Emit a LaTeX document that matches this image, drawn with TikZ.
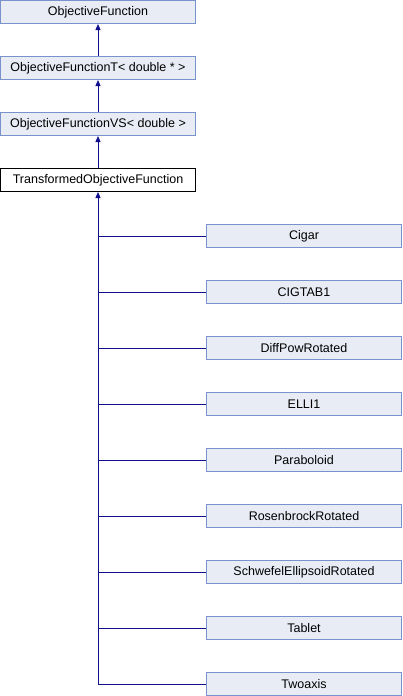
\documentclass[tikz,border=0pt]{standalone}
\usepackage{fontspec}
\setmainfont{Liberation Sans}
\usetikzlibrary{arrows.meta}
\definecolor{boxfill}{RGB}{232,236,245}
\definecolor{boxline}{RGB}{122,146,204}
\definecolor{edge}{RGB}{16,16,140}
\begin{document}
\begin{tikzpicture}[x=1pt, y=-1pt,
  cls/.style={draw=boxline, fill=boxfill, line width=1pt, minimum width=195pt,
    minimum height=23pt, inner sep=0pt, font=\fontsize{12.5}{14}\selectfont},
  cur/.style={cls, draw=black, fill=white},
  inh/.style={draw=edge, line width=1pt, -{Triangle[length=6pt,width=5pt]}},
  link/.style={draw=edge, line width=1pt}]
\useasboundingbox (0,0) rectangle (402,696);
% Base classes
\node[cls] (of)  at (98,12)  {ObjectiveFunction};
\node[cls] (oft) at (98,68)  {ObjectiveFunctionT< double * >};
\node[cls] (ofv) at (98,124) {ObjectiveFunctionVS< double >};
\node[cur] (tof) at (98,180) {TransformedObjectiveFunction};
% Arrows up the chain
\draw[inh] (oft) -- (of);
\draw[inh] (ofv) -- (oft);
\draw[inh] (tof) -- (ofv);
% Derived classes
\foreach \name [count=\i from 0] in {Cigar, CIGTAB1, DiffPowRotated, ELLI1, Paraboloid,
    RosenbrockRotated, SchwefelEllipsoidRotated, Tablet, Twoaxis}
  \node[cls] (d\i) at (304,236+56*\i) {\name};
% Trunk and branches
\coordinate (end) at (tof.south |- d8.west);
\draw[inh] (end) -- (tof);
\foreach \i in {0,...,8}
  \draw[link] (tof.south |- d\i.west) -- (d\i.west);
\end{tikzpicture}
\end{document}
